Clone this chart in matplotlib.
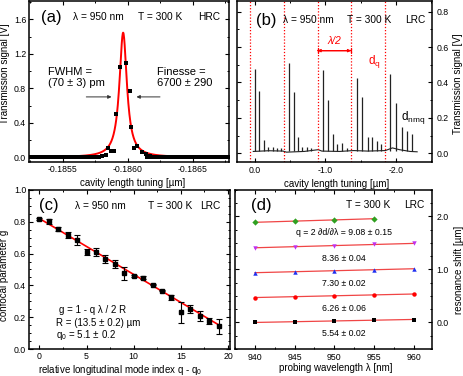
import numpy as np
import matplotlib
matplotlib.use("Agg")
import matplotlib.pyplot as plt
from matplotlib.ticker import MultipleLocator, FormatStrFormatter

plt.rcParams["font.family"] = ["Liberation Sans", "DejaVu Sans"]
plt.rcParams["mathtext.fontset"] = "custom"
plt.rcParams["mathtext.rm"] = "Liberation Sans"
plt.rcParams["mathtext.it"] = "Liberation Sans:italic"
plt.rcParams["axes.unicode_minus"] = False

# (a) HRC resonance, data points around the peak
a_x = [-0.185800, -0.185830, -0.185852, -0.185870, -0.185897, -0.185913,
       -0.185938, -0.185986, -0.186014, -0.186027, -0.186046, -0.186073,
       -0.186108, -0.186140, -0.186170]
a_y = [0.02, 0.03, 0.104, 0.070, 0.077, 0.502,
       1.05, 1.097, 0.772, 0.348, 0.104, 0.135,
       0.065, 0.038, 0.02]
# flat noise floor of the scan, read as ~0.0 V
a_floor_left = (-0.18520, -0.18578)
a_floor_right = (-0.18615, -0.18682)
a_floor_level = 0.0
# Lorentz fit
a_center = -0.185965
a_fwhm = 0.00007
a_amp = 1.445

# (b) LRC transmission spectrum
b_peak_x = [0.0, -0.066, -0.128, -0.194, -0.255, -0.311, -0.373,
            -0.49, -0.552, -0.613, -0.675, -0.736, -0.798,
            -0.972, -1.033, -1.103, -1.17, -1.236, -1.30,
            -1.443, -1.513, -1.598, -1.66, -1.726, -1.79,
            -1.919, -1.995, -2.08, -2.16, -2.23]
b_peak_h = [0.477, 0.351, 0.077, 0.035, 0.035, 0.03, 0.03,
            0.51, 0.345, 0.09, 0.035, 0.035, 0.03,
            0.472, 0.30, 0.107, 0.05, 0.06, 0.03,
            0.426, 0.317, 0.09, 0.09, 0.07, 0.05,
            0.449, 0.286, 0.146, 0.124, 0.107]
b_base_x = [0.02, -0.2, -0.4, -0.45, -0.7, -0.9, -0.95, -1.2, -1.4,
            -1.6, -1.85, -1.95, -2.05, -2.2, -2.3]
b_base_y = [0.010, 0.014, 0.012, 0.006, 0.010, 0.020, 0.012, 0.010, 0.015,
            0.012, 0.015, 0.030, 0.020, 0.010, 0.008]
b_modes = [0.06, -0.415, -0.89, -1.365, -1.84]

# (c) confocal parameter
c_q = list(range(20))
c_g = [0.818, 0.802, 0.754, 0.717, 0.685, 0.609, 0.608, 0.566, 0.532, 0.475,
       0.458, 0.448, 0.404, 0.367, 0.324, 0.230, 0.252, 0.206, 0.178, 0.142]
c_err = [0.004, 0.015, 0.015, 0.02, 0.03, 0.02, 0.025, 0.025, 0.025, 0.04,
         0.008, 0.01, 0.004, 0.004, 0.017, 0.065, 0.025, 0.03, 0.02, 0.045]
c_lam = 0.95
c_R = 13.5
c_q0 = 5.1

# (d) resonance shift vs probing wavelength
d_wl = [940, 945, 950, 955, 960]
d_shifts = [
    [0.0, 0.015, 0.03, 0.045, 0.056],
    [0.47, 0.487, 0.505, 0.522, 0.536],
    [0.94, 0.958, 0.976, 0.994, 1.015],
    [1.41, 1.43, 1.45, 1.472, 1.492],
    [1.89, 1.912, 1.935, 1.958],
]
d_labels = ["5.54 ± 0.02", "6.26 ± 0.06", "7.30 ± 0.02", "8.36 ± 0.04",
            "q = 2 ∂d/∂λ = 9.08 ± 0.15"]
d_colors = ["black", "#ff0000", "#2030f0", "#c030f0", "#30a020"]
d_markers = ["s", "o", "^", "v", "D"]

TICK = 6.3
LAB = 7.0
HEAD = 7.3
PANEL = 12


def style_axes(ax, right_labels=False):
    ax.tick_params(which="both", direction="in", top=True, right=True,
                   labelsize=TICK, pad=2)
    ax.tick_params(which="major", length=3, width=0.8)
    ax.tick_params(which="minor", length=1.6, width=0.7)
    if right_labels:
        ax.tick_params(labelleft=False, labelright=True, pad=3)
        ax.yaxis.set_label_position("right")
    for s in ax.spines.values():
        s.set_linewidth(1.1)


def header(ax, items, y):
    for x, txt, size in items:
        ax.text(x, y, txt, transform=ax.transAxes, ha="center", va="center",
                fontsize=size)


def panel_a(ax):
    xf = np.linspace(-0.18520, -0.18682, 800)
    hw = a_fwhm / 2
    yf = a_amp * hw ** 2 / ((xf - a_center) ** 2 + hw ** 2)
    ax.plot(xf, yf, color="#ff0000", lw=1.4, zorder=2)

    for lo, hi in (a_floor_left, a_floor_right):
        fx = np.arange(lo, hi, -0.000004)
        ax.plot(fx, np.full(len(fx), a_floor_level), "s", color="black",
                ms=3, mew=0, zorder=3)
    ax.plot(a_x, a_y, "s", color="black", ms=2.8, mew=0, zorder=3)

    ax.annotate("", xy=(-0.185897, 0.70), xytext=(-0.18566, 0.70),
                arrowprops=dict(arrowstyle="-|>", color="#333333", lw=0.7,
                                mutation_scale=5))
    ax.annotate("", xy=(-0.186046, 0.70), xytext=(-0.18627, 0.70),
                arrowprops=dict(arrowstyle="-|>", color="#333333", lw=0.7,
                                mutation_scale=5))
    ax.text(0.095, 0.56, "FWHM =", transform=ax.transAxes, fontsize=8,
            va="center")
    ax.text(0.095, 0.49, "(70 ± 3) pm", transform=ax.transAxes, fontsize=8,
            va="center")
    ax.text(0.64, 0.56, "Finesse =", transform=ax.transAxes, fontsize=8,
            va="center")
    ax.text(0.64, 0.49, "6700 ± 290", transform=ax.transAxes, fontsize=8,
            va="center")

    ax.set_xlim(-0.18524, -0.18678)
    ax.set_ylim(-0.055, 1.81)
    ax.xaxis.set_major_locator(MultipleLocator(0.0005))
    ax.xaxis.set_minor_locator(MultipleLocator(0.00025))
    ax.xaxis.set_major_formatter(FormatStrFormatter("%.4f"))
    ax.yaxis.set_major_locator(MultipleLocator(0.4))
    ax.yaxis.set_minor_locator(MultipleLocator(0.2))
    ax.yaxis.set_major_formatter(FormatStrFormatter("%.1f"))
    style_axes(ax)
    ax.set_xlabel("cavity length tuning [µm]", fontsize=LAB)
    ax.set_ylabel("Transmission signal [V]", fontsize=LAB)
    ax.xaxis.set_label_coords(0.52, -0.1)
    ax.yaxis.set_label_coords(-0.095, 0.55)
    header(ax, [(0.11, "(a)", PANEL), (0.345, "λ = 950 nm", HEAD),
                (0.655, "T = 300 K", HEAD), (0.9, "HRC", HEAD)], 0.9)


def panel_b(ax):
    ax.plot(b_base_x, b_base_y, color="#222222", lw=0.8)
    ax.vlines(b_peak_x, 0.01, b_peak_h, color="#222222", lw=0.9)
    for m in b_modes:
        ax.axvline(m, color="#ff0000", lw=0.9, ls=(0, (1, 1.5)))
    ax.annotate("", xy=(b_modes[2], 0.58), xytext=(b_modes[3], 0.58),
                arrowprops=dict(arrowstyle="|-|", color="#ff0000", lw=0.9,
                                mutation_scale=2, shrinkA=0, shrinkB=0))
    ax.annotate("", xy=(b_modes[2], 0.58), xytext=(b_modes[3], 0.58),
                arrowprops=dict(arrowstyle="<|-|>", color="#ff0000", lw=0.9,
                                mutation_scale=4, shrinkA=0, shrinkB=0))
    ax.text((b_modes[2] + b_modes[3]) / 2, 0.635, "λ/2", color="#ff0000",
            fontsize=7.5, style="italic", ha="center", va="center")
    ax.text(-1.7, 0.52, r"d$_{\mathrm{q}}$", color="#ff0000", fontsize=8.5,
            ha="center", va="center")
    ax.text(-2.25, 0.2, r"d$_{\mathrm{nmq}}$", color="black", fontsize=8.5,
            ha="center", va="center")

    ax.set_xlim(0.25, -2.51)
    ax.set_ylim(-0.05, 0.86)
    ax.xaxis.set_major_locator(MultipleLocator(1.0))
    ax.xaxis.set_minor_locator(MultipleLocator(0.5))
    ax.xaxis.set_major_formatter(FormatStrFormatter("%.1f"))
    ax.yaxis.set_major_locator(MultipleLocator(0.2))
    ax.yaxis.set_minor_locator(MultipleLocator(0.1))
    ax.yaxis.set_major_formatter(FormatStrFormatter("%.1f"))
    style_axes(ax, right_labels=True)
    ax.set_xlabel("cavity length tuning [µm]", fontsize=LAB)
    ax.set_ylabel("Transmission signal [V]", fontsize=LAB)
    ax.xaxis.set_label_coords(0.51, -0.107)
    ax.yaxis.set_label_coords(1.11, 0.485)
    header(ax, [(0.15, "(b)", PANEL), (0.364, "λ = 950 nm", HEAD),
                (0.68, "T = 300 K", HEAD), (0.914, "LRC", HEAD)], 0.88)


def panel_c(ax):
    qf = np.array([-0.1, 19.2])
    ax.plot(qf, 1 - (qf + c_q0) * c_lam / (2 * c_R), color="#ff0000", lw=1.2,
            zorder=2)
    ax.errorbar(c_q, c_g, yerr=c_err, fmt="s", ms=2.3, color="black",
                ecolor="black", elinewidth=0.8, capsize=2, capthick=0.8,
                zorder=3)
    ax.text(2.1, 0.245, "g = 1 - q λ / 2 R", fontsize=7, va="center")
    ax.text(1.8, 0.165, "R = (13.5 ± 0.2) µm", fontsize=7, va="center")
    ax.text(1.8, 0.09, r"q$_0$ = 5.1 ± 0.2", fontsize=7, va="center")

    ax.set_xlim(-1.1, 20.2)
    ax.set_ylim(0, 1.0)
    ax.xaxis.set_major_locator(MultipleLocator(5))
    ax.xaxis.set_minor_locator(MultipleLocator(2.5))
    ax.yaxis.set_major_locator(MultipleLocator(0.2))
    ax.yaxis.set_minor_locator(MultipleLocator(0.05))
    ax.yaxis.set_major_formatter(FormatStrFormatter("%.1f"))
    style_axes(ax)
    ax.set_xlabel(r"relative longitudinal mode index q - q$_0$", fontsize=LAB)
    ax.set_ylabel("confocal parameter g", fontsize=LAB)
    ax.xaxis.set_label_coords(0.453, -0.085)
    ax.yaxis.set_label_coords(-0.1, 0.46)
    header(ax, [(0.10, "(c)", PANEL), (0.353, "λ = 950 nm", HEAD),
                (0.70, "T = 300 K", HEAD), (0.90, "LRC", HEAD)], 0.90)


def panel_d(ax):
    for shifts, lab, col, mk in zip(d_shifts, d_labels, d_colors, d_markers):
        wl = d_wl[:len(shifts)]
        k, b = np.polyfit(wl, shifts, 1)
        ax.plot([wl[0], wl[-1]], [k * wl[0] + b, k * wl[-1] + b],
                color="#f04545", lw=0.9, zorder=2)
        ax.plot(wl, shifts, mk, color=col, ms=3.2, mew=0, zorder=3)
        ax.text(951.2, shifts[0] - 0.2, lab, fontsize=6.3, ha="center",
                va="center")

    ax.set_xlim(937.5, 962.3)
    ax.set_ylim(-0.5, 2.5)
    ax.xaxis.set_major_locator(MultipleLocator(5))
    ax.xaxis.set_minor_locator(MultipleLocator(2.5))
    ax.yaxis.set_major_locator(MultipleLocator(1.0))
    ax.yaxis.set_minor_locator(MultipleLocator(0.25))
    ax.yaxis.set_major_formatter(FormatStrFormatter("%.1f"))
    style_axes(ax, right_labels=True)
    ax.set_xlabel("probing wavelength λ [nm]", fontsize=LAB)
    ax.set_ylabel("resonance shift [µm]", fontsize=LAB)
    ax.xaxis.set_label_coords(0.51, -0.09)
    ax.yaxis.set_label_coords(1.11, 0.497)
    header(ax, [(0.1335, "(d)", PANEL), (0.675, "T = 300 K", HEAD),
                (0.912, "LRC", HEAD)], 0.905)


def main():
    fig = plt.figure(figsize=(4.63, 3.76), dpi=100)
    ax_a = fig.add_axes([0.0626, 0.569, 0.432, 0.428])
    ax_b = fig.add_axes([0.512, 0.569, 0.421, 0.428])
    ax_c = fig.add_axes([0.0626, 0.0718, 0.434, 0.423])
    ax_d = fig.add_axes([0.5076, 0.0718, 0.4255, 0.423])
    panel_a(ax_a)
    panel_b(ax_b)
    panel_c(ax_c)
    panel_d(ax_d)
    fig.savefig("out.png", dpi=100)
    plt.close(fig)


if __name__ == "__main__":
    main()
